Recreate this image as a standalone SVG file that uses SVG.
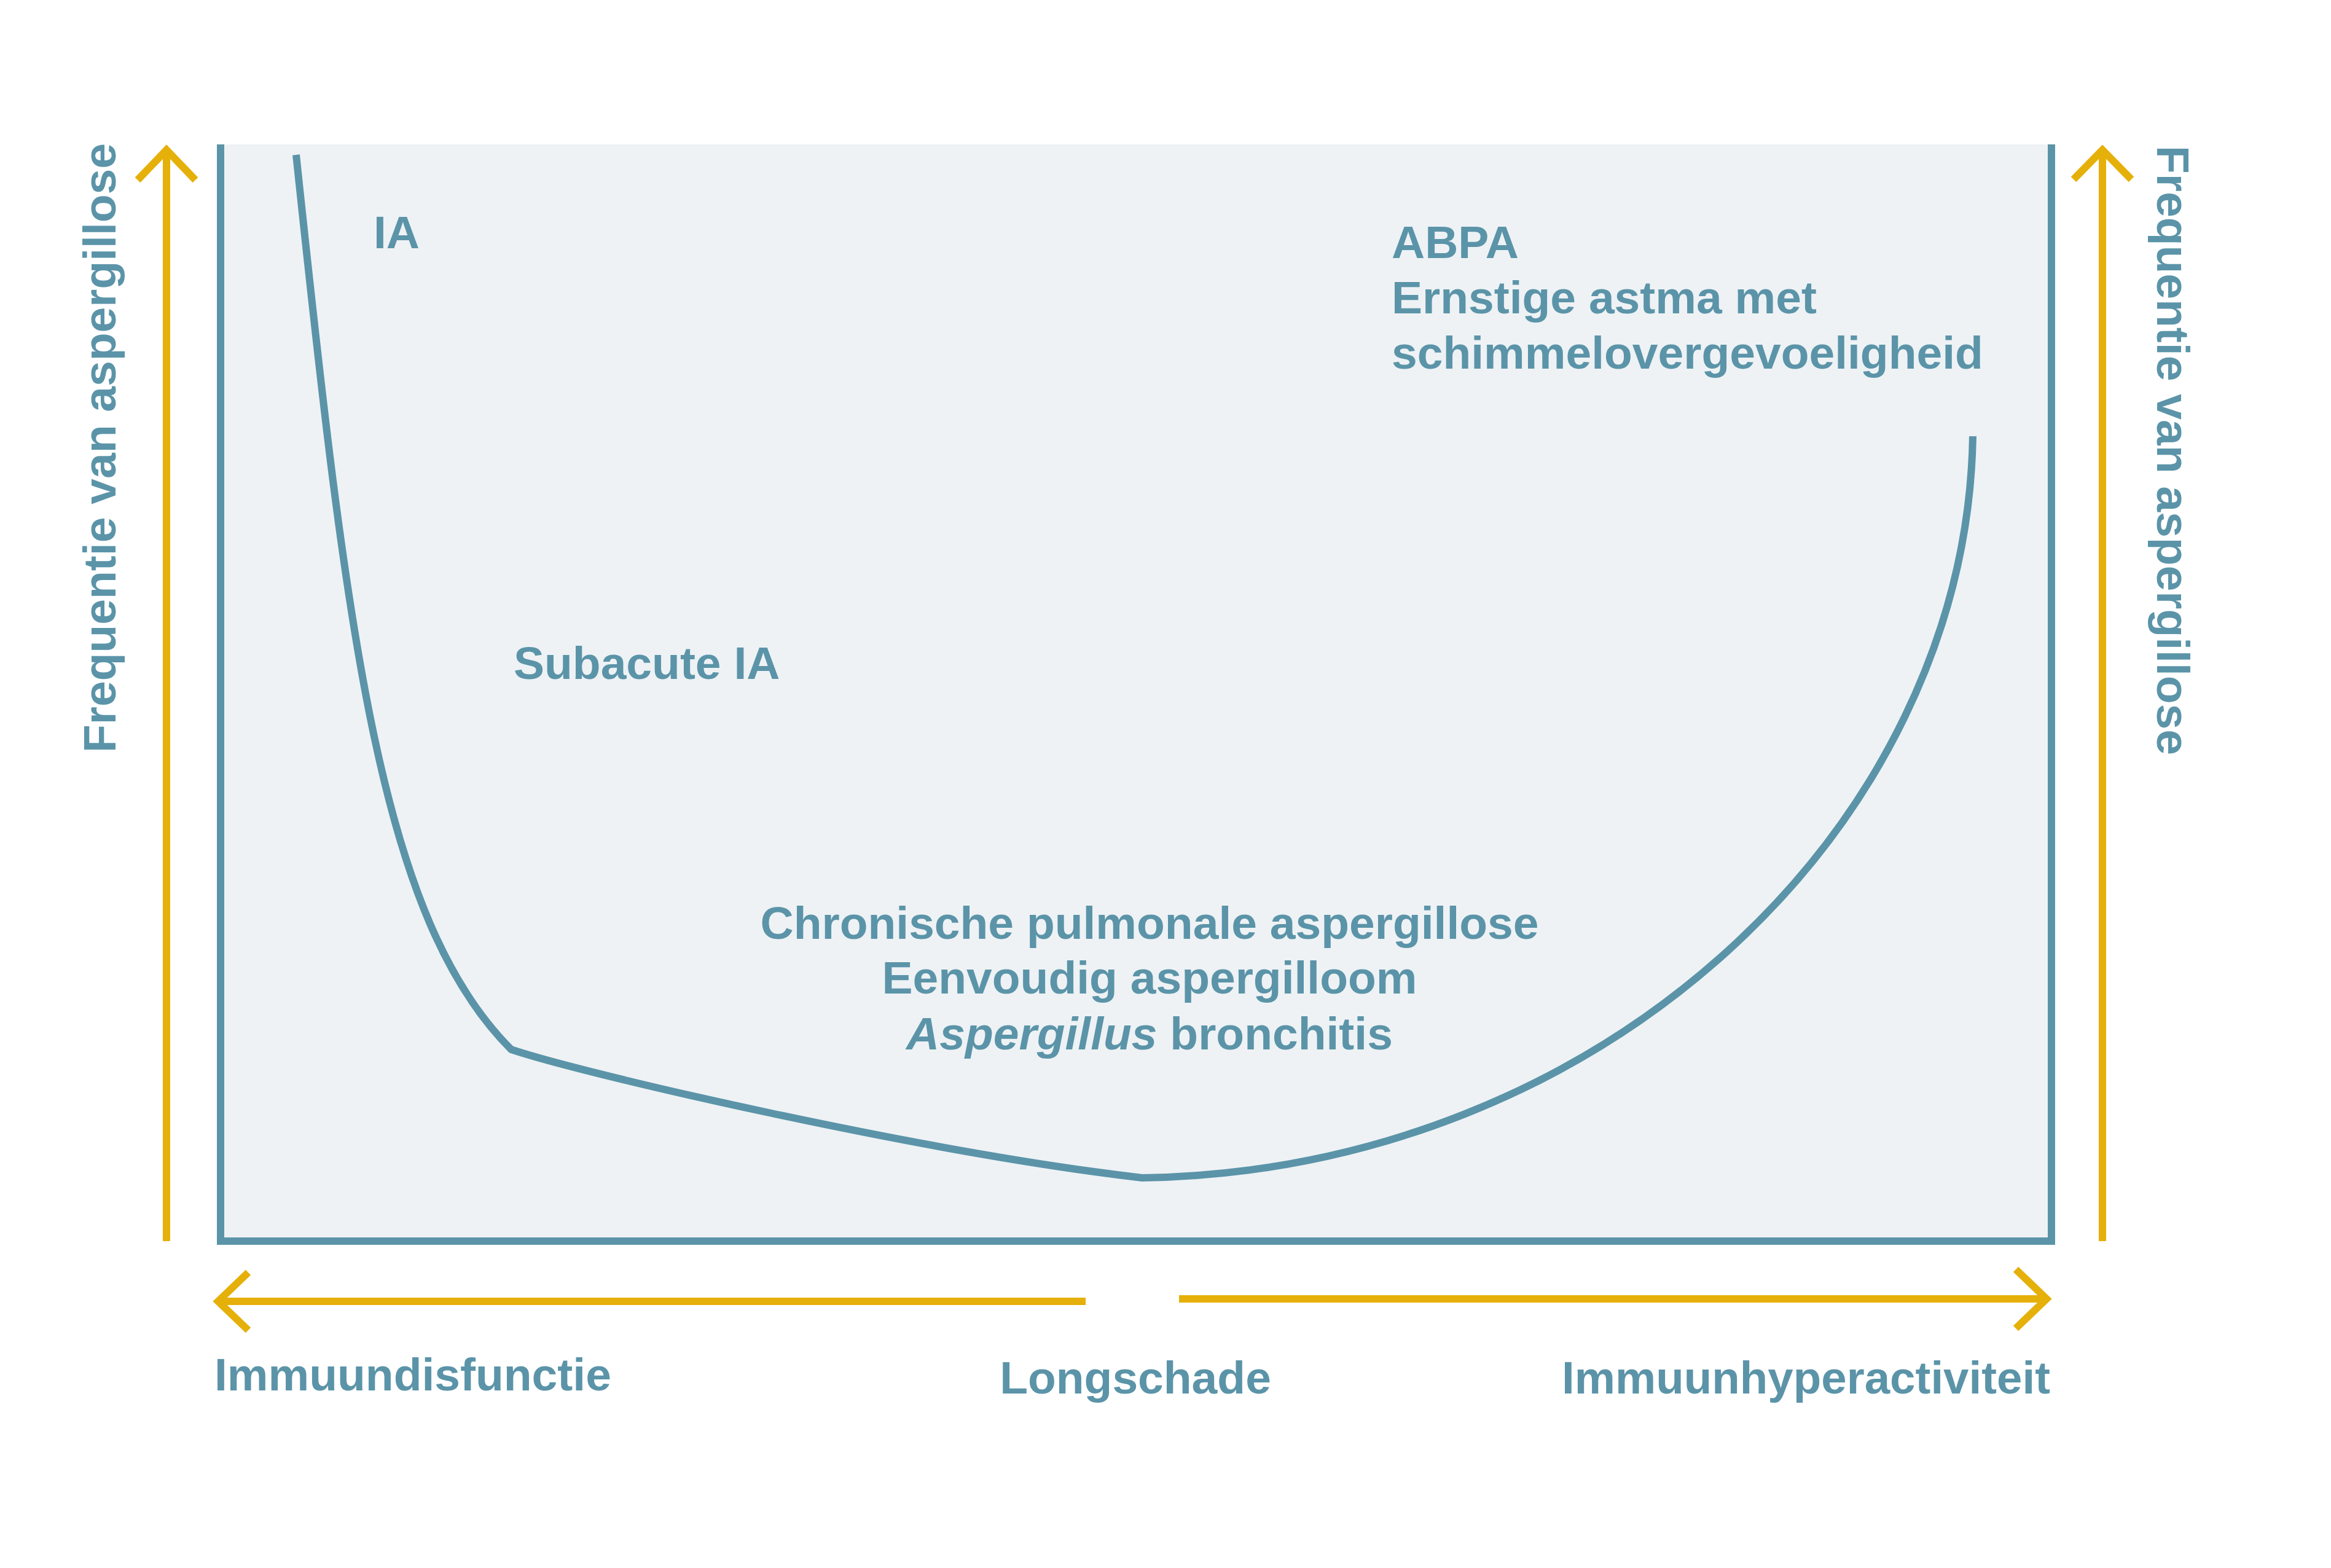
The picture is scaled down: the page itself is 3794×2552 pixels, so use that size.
<svg xmlns="http://www.w3.org/2000/svg" width="3794" height="2552" viewBox="0 0 3794 2552">
<style>
text{font-family:"Liberation Sans",Arial,Helvetica,sans-serif;font-weight:bold;font-size:75px;fill:#5B94A8}
.ax{fill:none;stroke:#E6B00A;stroke-width:12;stroke-linejoin:miter;stroke-miterlimit:10}
.frame{fill:none;stroke:#5B94A8;stroke-width:12;stroke-linejoin:miter}
.curve{fill:none;stroke:#5B94A8;stroke-width:12;stroke-linejoin:miter}
.mid{text-anchor:middle}
</style>
<rect width="3794" height="2552" fill="#FFFFFF"/>
<g id="plot">
<rect x="359" y="235" width="2980" height="1785" fill="#EEF2F5"/>
<path class="frame" d="M359,235 V2020 H3339 V235"/>
</g>
<g id="connectors">
<path class="curve" d="M482,252 C566,1047 620,1496 832,1708 C950,1748 1500,1875 1859,1917 C2605,1905 3200,1350 3211,710"/>
<path class="ax" d="M271,2020 V246 M224,293 L271,244 L318,293"/>
<path class="ax" d="M3422,2020 V246 M3375,292 L3422,244 L3469,292"/>
<path class="ax" d="M1767,2118 H356 M404,2071 L355,2118 L404,2165"/>
<path class="ax" d="M1919,2114 H3330 M3281,2066 L3331,2114 L3281,2162"/>
</g>
<g id="label-y-left"><text class="mid" transform="translate(188,729) rotate(-90)">Frequentie van aspergillose</text></g>
<g id="label-y-right"><text class="mid" transform="translate(3511,733) rotate(90)">Frequentie van aspergillose</text></g>
<g id="label-ia"><text x="608" y="404">IA</text></g>
<g id="label-subacute"><text x="836" y="1105">Subacute IA</text></g>
<g id="label-abpa">
<text x="2265" y="420">ABPA</text>
<text x="2265" y="510">Ernstige astma met</text>
<text x="2265" y="600">schimmelovergevoeligheid</text>
</g>
<g id="label-chronic">
<text class="mid" x="1871" y="1528">Chronische pulmonale aspergillose</text>
<text class="mid" x="1871" y="1617">Eenvoudig aspergilloom</text>
<text class="mid" x="1871" y="1708"><tspan font-style="italic">Aspergillus</tspan> bronchitis</text>
</g>
<g id="label-x-left"><text x="349" y="2263">Immuundisfunctie</text></g>
<g id="label-x-mid"><text class="mid" x="1848" y="2268">Longschade</text></g>
<g id="label-x-right"><text x="3337" y="2268" text-anchor="end" textLength="795" lengthAdjust="spacingAndGlyphs">Immuunhyperactiviteit</text></g>
</svg>
